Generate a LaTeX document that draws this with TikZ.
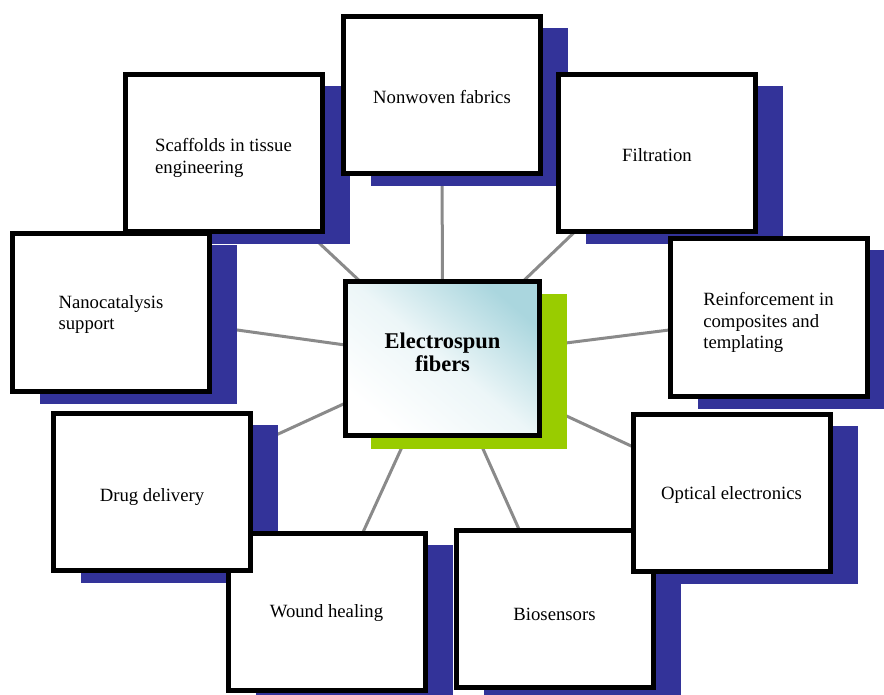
\documentclass[tikz,border=0pt]{standalone}
\usepackage{fontspec}
\setmainfont{Liberation Serif}
\usetikzlibrary{backgrounds}
\definecolor{navy}{RGB}{51,51,153}
\definecolor{leaf}{RGB}{153,204,0}
\definecolor{linegray}{RGB}{138,138,138}
\definecolor{tealtop}{RGB}{170,214,222}
\begin{document}
\begin{tikzpicture}[x=1pt,y=-1pt,
  appbox/.style={draw=black, line width=5pt, fill=white, minimum width=197pt,
    minimum height=157pt, inner sep=0pt},
  apptext/.style={align=left, inner sep=0pt,
    font=\fontsize{18.7}{21.5}\selectfont},
  conn/.style={draw=linegray, line width=3pt},
  navyshadow/.style={fill=navy},
  greenshadow/.style={fill=leaf}]
\useasboundingbox (0,0) rectangle (884,695);
\clip (0,0) rectangle (884,695);

\node[appbox] (nonwoven) at (442,95.5) {};
\node[apptext] (nonwovent) at (442,97.5) {Nonwoven fabrics};
\node[appbox] (filtration) at (657,153) {};
\node[apptext] (filtrationt) at (657,155) {Filtration};
\node[appbox] (reinf) at (768.5,317.5) {};
\node[apptext] (reinft) at (768.5,322.5) {Reinforcement in\\composites and\\templating};
\node[appbox] (bio) at (554.5,608.5) {};
\node[apptext] (biot) at (554.5,614) {Biosensors};
\node[appbox] (optical) at (731.5,492.5) {};
\node[apptext] (opticalt) at (731.5,495) {Optical electronics};
\node[appbox] (wound) at (326.5,612) {};
\node[apptext] (woundt) at (326.5,613) {Wound healing};
\node[appbox] (drug) at (152,492) {};
\node[apptext] (drugt) at (152,497.5) {Drug delivery};
\node[appbox] (scaff) at (223.5,153.5) {};
\node[apptext] (scafft) at (223.5,158) {Scaffolds in tissue\\engineering};
\node[appbox] (nano) at (111,312.5) {};
\node[apptext] (nanot) at (111,314.5) {Nanocatalysis\\support};

\node[draw=black, line width=5pt, minimum width=194pt, minimum height=154pt,
  top color=tealtop, bottom color=white, middle color=tealtop!22, shading angle=-40]
  (c) at (442.5,358.5) {};
\node[font=\bfseries\fontsize{22.5}{23}\selectfont, align=center, inner sep=0pt]
  (ct) at (442.5,352.5) {Electrospun\\fibers};

\begin{scope}[on background layer]
  \clip (0,0) rectangle (884,695);
  \foreach \n in {nonwoven,filtration,reinf,optical,bio,wound,drug,nano,scaff}
    \draw[conn] (c.center) -- (\n.center);
  \foreach \n in {nonwoven,filtration,reinf,optical,bio,wound,drug,nano,scaff}
    \fill[navyshadow] ([shift={(30,14)}]\n.north west) rectangle ([shift={(25,10)}]\n.south east);
  \fill[greenshadow] ([shift={(28,15)}]c.north west) rectangle ([shift={(25,11)}]c.south east);
\end{scope}
\end{tikzpicture}
\end{document}
